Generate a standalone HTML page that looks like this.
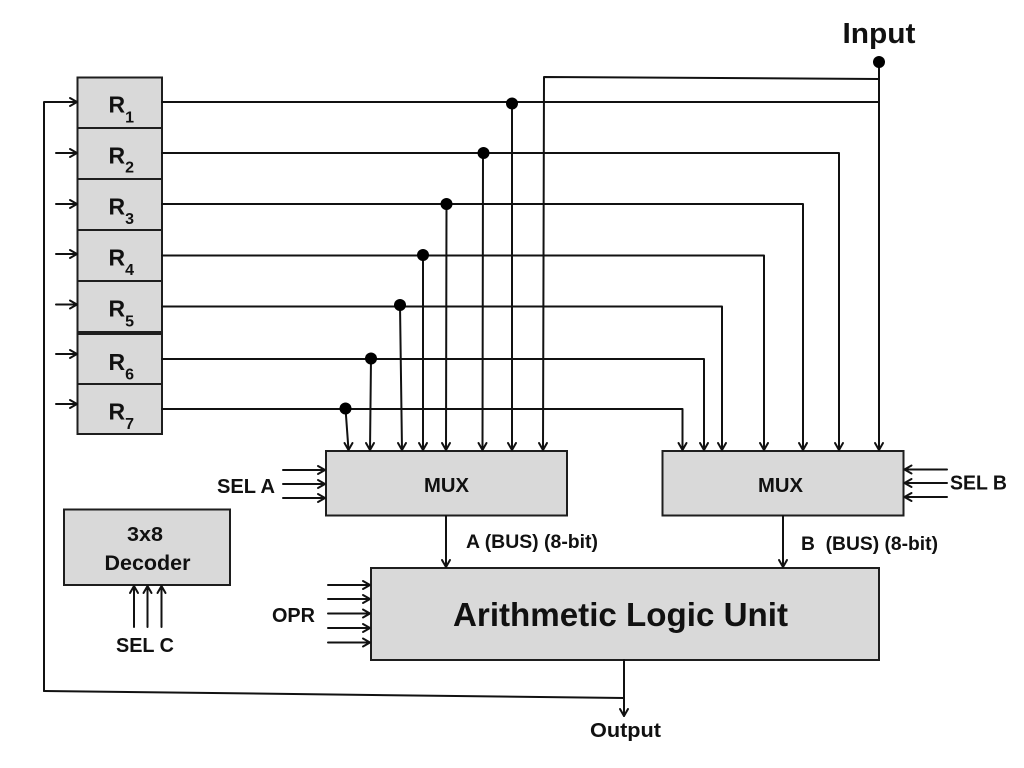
<!DOCTYPE html>
<html>
<head>
<meta charset="utf-8">
<style>
html,body{margin:0;padding:0;background:#fff;}
svg{display:block;}
text{font-family:"Liberation Sans",Arial,sans-serif;font-weight:bold;fill:#111;}
</style>
</head>
<body>
<svg width="1024" height="768" viewBox="0 0 1024 768" xmlns="http://www.w3.org/2000/svg">
<rect x="0" y="0" width="1024" height="768" fill="#fff"/>
<g fill="#d9d9d9" stroke="#1e1e1e" stroke-width="2">
  <rect x="77.5" y="77.5" width="84.5" height="50.5"/>
  <rect x="77.5" y="128" width="84.5" height="51"/>
  <rect x="77.5" y="179" width="84.5" height="51"/>
  <rect x="77.5" y="230" width="84.5" height="51"/>
  <rect x="77.5" y="281" width="84.5" height="51"/>
  <rect x="77.5" y="334" width="84.5" height="50"/>
  <rect x="77.5" y="384" width="84.5" height="50"/>
  <rect x="326" y="451" width="241" height="64.5"/>
  <rect x="662.5" y="451" width="241" height="64.5"/>
  <rect x="371" y="568" width="508" height="92"/>
  <rect x="64" y="509.5" width="166" height="75.5"/>
</g>
<g fill="none" stroke="#111" stroke-width="2" stroke-linecap="round" stroke-linejoin="round">
  <!-- feedback loop -->
  <path d="M44 691 L44 102 L77 102"/>
  <path d="M70 98 L77 102 L70 106"/>
  <path d="M44 691 L624 698"/>
  <!-- output -->
  <path d="M624 660 L624 716"/>
  <path d="M620 709 L624 716 L628 709"/>
  <!-- left input arrows -->
  <path d="M56 153 L77 153 M70 149 L77 153 L70 157"/>
  <path d="M56 204 L77 204 M70 200 L77 204 L70 208"/>
  <path d="M56 254 L77 254 M70 250 L77 254 L70 258"/>
  <path d="M56 304.5 L77 304.5 M70 300.5 L77 304.5 L70 308.5"/>
  <path d="M56 354 L77 354 M70 350 L77 354 L70 358"/>
  <path d="M56 404 L77 404 M70 400 L77 404 L70 408"/>
  <!-- register output lines to MUX B -->
  <path d="M162 102 L879 102"/>
  <path d="M162 153 L839 153 L839 450"/>
  <path d="M162 204 L803 204 L803 450"/>
  <path d="M162 255.5 L764 255.5 L764 450"/>
  <path d="M162 306.5 L722 306.5 L722 450"/>
  <path d="M162 359 L704 359 L704 450"/>
  <path d="M162 409 L682.5 409 L682.5 450"/>
  <!-- input -->
  <path d="M879 62 L879 450"/>
  <path d="M879 79 L544 77 L543 450"/>
  <!-- drops to MUX A -->
  <path d="M512 103 L512 450"/>
  <path d="M483 153 L482.5 450"/>
  <path d="M446.5 204 L446 450"/>
  <path d="M423 255 L423 450"/>
  <path d="M400 305 L402 450"/>
  <path d="M371 359 L370 450"/>
  <path d="M345.5 408.5 L348.5 450"/>
  <!-- arrowheads into MUX A -->
  <path d="M344.5 443 L348.5 450 L352.5 443"/>
  <path d="M366 443 L370 450 L374 443"/>
  <path d="M398 443 L402 450 L406 443"/>
  <path d="M419 443 L423 450 L427 443"/>
  <path d="M442 443 L446 450 L450 443"/>
  <path d="M478.5 443 L482.5 450 L486.5 443"/>
  <path d="M508 443 L512 450 L516 443"/>
  <path d="M539 443 L543 450 L547 443"/>
  <!-- arrowheads into MUX B -->
  <path d="M678.5 443 L682.5 450 L686.5 443"/>
  <path d="M700 443 L704 450 L708 443"/>
  <path d="M718 443 L722 450 L726 443"/>
  <path d="M760 443 L764 450 L768 443"/>
  <path d="M799 443 L803 450 L807 443"/>
  <path d="M835 443 L839 450 L843 443"/>
  <path d="M875 443 L879 450 L883 443"/>
  <!-- SEL A -->
  <path d="M283 470 L325 470 M318 466 L325 470 L318 474"/>
  <path d="M283 484 L325 484 M318 480 L325 484 L318 488"/>
  <path d="M283 498 L325 498 M318 494 L325 498 L318 502"/>
  <!-- SEL B -->
  <path d="M947 469.5 L904.5 469.5 M911.5 465.5 L904.5 469.5 L911.5 473.5"/>
  <path d="M947 483 L904.5 483 M911.5 479 L904.5 483 L911.5 487"/>
  <path d="M947 497 L904.5 497 M911.5 493 L904.5 497 L911.5 501"/>
  <!-- OPR -->
  <path d="M328 585 L370 585 M363 581 L370 585 L363 589"/>
  <path d="M328 599 L370 599 M363 595 L370 599 L363 603"/>
  <path d="M328 613.5 L370 613.5 M363 609.5 L370 613.5 L363 617.5"/>
  <path d="M328 628 L370 628 M363 624 L370 628 L363 632"/>
  <path d="M328 642.5 L370 642.5 M363 638.5 L370 642.5 L363 646.5"/>
  <!-- SEL C -->
  <path d="M134 627 L134 586 M130 593 L134 586 L138 593"/>
  <path d="M147.5 627 L147.5 586 M143.5 593 L147.5 586 L151.5 593"/>
  <path d="M161.5 627 L161.5 586 M157.5 593 L161.5 586 L165.5 593"/>
  <!-- buses -->
  <path d="M446 516 L446 567 M442 560 L446 567 L450 560"/>
  <path d="M783 516 L783 567 M779 560 L783 567 L787 560"/>
</g>
<g fill="#000">
  <circle cx="879" cy="62" r="6"/>
  <circle cx="512" cy="103.5" r="6"/>
  <circle cx="483.5" cy="153" r="6"/>
  <circle cx="446.5" cy="204" r="6"/>
  <circle cx="423" cy="255" r="6"/>
  <circle cx="400" cy="305" r="6"/>
  <circle cx="371" cy="358.5" r="6"/>
  <circle cx="345.5" cy="408.5" r="6"/>
</g>
<!-- register labels -->
<g font-size="23">
  <text x="108.5" y="112.7">R<tspan font-size="16" dy="10">1</tspan></text>
  <text x="108.5" y="163.5">R<tspan font-size="16" dy="9">2</tspan></text>
  <text x="108.5" y="214.5">R<tspan font-size="16" dy="9.5">3</tspan></text>
  <text x="108.5" y="265.5">R<tspan font-size="16" dy="9.5">4</tspan></text>
  <text x="108.5" y="316.5">R<tspan font-size="16" dy="10">5</tspan></text>
  <text x="108.5" y="370">R<tspan font-size="16" dy="9.5">6</tspan></text>
  <text x="108.5" y="419.5">R<tspan font-size="16" dy="9.5">7</tspan></text>
</g>
<text x="842.5" y="43" font-size="29" textLength="73" lengthAdjust="spacingAndGlyphs">Input</text>
<text x="424" y="492" font-size="20" textLength="45" lengthAdjust="spacingAndGlyphs">MUX</text>
<text x="758" y="492" font-size="20" textLength="45" lengthAdjust="spacingAndGlyphs">MUX</text>
<text x="217" y="493" font-size="20" textLength="58" lengthAdjust="spacingAndGlyphs">SEL A</text>
<text x="950" y="489.5" font-size="20" textLength="57" lengthAdjust="spacingAndGlyphs">SEL B</text>
<text x="466" y="548" font-size="19" textLength="132" lengthAdjust="spacingAndGlyphs">A (BUS) (8-bit)</text>
<text x="801" y="550" font-size="19" textLength="137" lengthAdjust="spacingAndGlyphs" xml:space="preserve">B  (BUS) (8-bit)</text>
<text x="453" y="626" font-size="33" textLength="335" lengthAdjust="spacingAndGlyphs">Arithmetic Logic Unit</text>
<text x="272" y="622" font-size="20" textLength="43" lengthAdjust="spacingAndGlyphs">OPR</text>
<text x="127" y="541" font-size="20" textLength="36" lengthAdjust="spacingAndGlyphs">3x8</text>
<text x="104.5" y="570" font-size="21" textLength="86" lengthAdjust="spacingAndGlyphs">Decoder</text>
<text x="116" y="652" font-size="20" textLength="58" lengthAdjust="spacingAndGlyphs">SEL C</text>
<text x="590" y="737" font-size="20" textLength="71" lengthAdjust="spacingAndGlyphs">Output</text>
</svg>
</body>
</html>
